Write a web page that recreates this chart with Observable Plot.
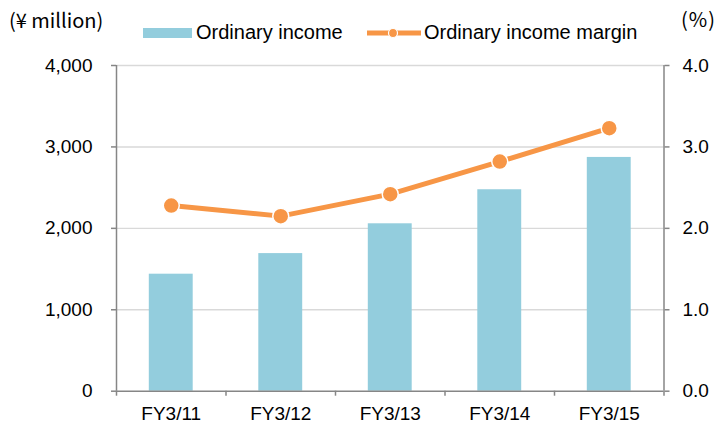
<!DOCTYPE html>
<html><head><meta charset="utf-8">
<script src="https://cdn.jsdelivr.net/npm/d3@7"></script>
<script src="https://cdn.jsdelivr.net/npm/@observablehq/plot@0.6"></script>
<style>
body{margin:0;background:#fff}
#wrap{position:relative;width:716px;height:423px;font-family:"Liberation Sans",Arial,sans-serif}
#wrap svg{position:absolute;left:0;top:0}
.lbl{position:absolute;white-space:nowrap;color:#000;line-height:1}
</style></head><body><div id="wrap"></div>
<script>
const categories = ["FY3/11","FY3/12","FY3/13","FY3/14","FY3/15"];
const ordinaryIncome = [1437,1690,2056,2474,2871];   // ¥ million
const incomeMargin = [2.28,2.15,2.42,2.82,3.23];      // %
const leftTicks = [0,1000,2000,3000,4000];
const rightTicks = [0,1,2,3,4];
const seriesNames = ["Ordinary income","Ordinary income margin"];
const unitLeft = "(¥ million)";
const unitRight = "(%)";

const barColor = "#93CDDD";
const lineColor = "#F79646";
const axisColor = "#868686";
const gridColor = "#D9D9D9";

const rows = categories.map((c,i)=>({cat:c, i, income:ordinaryIncome[i], margin:incomeMargin[i]}));
const n = categories.length;
const idx = d3.range(n);

const chart = Plot.plot({
  width:716, height:423,
  marginLeft:116, marginRight:52.5, marginTop:65, marginBottom:32.3,
  style:{fontFamily:'"Liberation Sans", Arial, sans-serif', fontSize:"19px", color:"#000", background:"#fff"},
  x:{type:"linear", domain:[0,n], axis:null},
  y:{domain:[0,4000], axis:null},
  marks:[
    Plot.gridY(leftTicks.filter(d=>d>0), {stroke:gridColor, strokeOpacity:1, strokeWidth:1.4}),
    Plot.rectY(rows, {x1:d=>d.i, x2:d=>d.i+1, y:"income", fill:barColor, insetLeft:32.8, insetRight:32.8}),
    Plot.ruleX([0, n], {stroke:axisColor, strokeWidth:1.5}),
    Plot.ruleY([0], {stroke:axisColor, strokeWidth:1.5}),
    Plot.axisY({anchor:"left", ticks:leftTicks, tickFormat:d3.format(","), tickSize:5, tickPadding:19, stroke:axisColor, strokeWidth:1.5, fill:"#000", label:null}),
    Plot.axisY({anchor:"right", ticks:rightTicks.map(d=>d*1000), tickFormat:d=>(d/1000).toFixed(1), tickSize:5, tickPadding:13.5, stroke:axisColor, strokeWidth:1.5, fill:"#000", label:null}),
    Plot.axisX({anchor:"bottom", ticks:d3.range(n+1), tickFormat:()=>"", tickSize:5, stroke:axisColor, strokeWidth:1.5, label:null}),
    Plot.axisX({anchor:"bottom", ticks:idx.map(i=>i+0.5), tickFormat:d=>categories[Math.floor(d)], tickSize:0, tickPadding:15, fill:"#000", label:null}),
    Plot.line(rows, {x:d=>d.i+0.5, y:d=>d.margin*1000, stroke:lineColor, strokeWidth:5}),
    Plot.dot(rows, {x:d=>d.i+0.5, y:d=>d.margin*1000, r:8, fill:lineColor, stroke:"#fff", strokeWidth:1.5})
  ]
});

const wrap = document.getElementById("wrap");
wrap.appendChild(chart);

function addLabel(text, css){
  const el = document.createElement("div");
  el.className = "lbl";
  el.textContent = text;
  Object.assign(el.style, css);
  wrap.appendChild(el);
  return el;
}
addLabel(unitLeft, {left:"9px", top:"10px", fontSize:"20px", fontFamily:'"Noto Sans CJK JP", sans-serif'});
addLabel(unitRight, {left:"681px", top:"9px", fontSize:"20px", letterSpacing:"1px", fontFamily:'"Noto Sans CJK JP", sans-serif'});

// legend
const sw1 = document.createElement("div");
Object.assign(sw1.style, {position:"absolute", left:"143px", top:"28px", width:"49px", height:"10px", background:barColor});
wrap.appendChild(sw1);
addLabel(seriesNames[0], {left:"196px", top:"22px", fontSize:"20px"});

const ns = "http://www.w3.org/2000/svg";
const sw2 = document.createElementNS(ns, "svg");
sw2.setAttribute("width", 54); sw2.setAttribute("height", 14);
Object.assign(sw2.style, {position:"absolute", left:"367px", top:"26px"});
const ln = document.createElementNS(ns, "line");
ln.setAttribute("x1",0); ln.setAttribute("x2",54); ln.setAttribute("y1",7); ln.setAttribute("y2",7);
ln.setAttribute("stroke", lineColor); ln.setAttribute("stroke-width", 5);
const cc = document.createElementNS(ns, "circle");
cc.setAttribute("cx",26); cc.setAttribute("cy",7); cc.setAttribute("r",4.5);
cc.setAttribute("fill", lineColor); cc.setAttribute("stroke","#fff"); cc.setAttribute("stroke-width",1.2);
sw2.appendChild(ln); sw2.appendChild(cc);
wrap.appendChild(sw2);
addLabel(seriesNames[1], {left:"424px", top:"22px", fontSize:"20px"});
</script>
</body></html>
